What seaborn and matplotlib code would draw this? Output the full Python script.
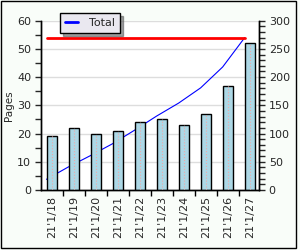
import numpy as np
import pandas as pd
import matplotlib
matplotlib.use("Agg")
import matplotlib.pyplot as plt
from matplotlib.ticker import MultipleLocator
from matplotlib.patches import Rectangle
import seaborn as sns

dates = ["21'1/18", "21'1/19", "21'1/20", "21'1/21", "21'1/22",
         "21'1/23", "21'1/24", "21'1/25", "21'1/26", "21'1/27"]
pages = [19, 22, 20, 21, 24, 25, 23, 27, 37, 52]

df = pd.DataFrame({"date": dates, "pages": pages})
df["total"] = np.cumsum(df["pages"])
pos = np.arange(len(df))
line_x = pos - 0.25

sns.set_style("ticks")
plt.rcParams["font.family"] = ["DejaVu Sans"]

fig = plt.figure(figsize=(3, 2.5), dpi=100, facecolor="#F9FDF9")
ax = fig.add_axes([41/300, 1-190/250, 218/300, (190-20.7)/250])
ax2 = ax.twinx()

# cumulative line + total line on right axis, drawn behind the bars
ax2.set_zorder(ax.get_zorder())
ax.set_zorder(ax2.get_zorder() + 1)
ax.patch.set_visible(False)
ax2.patch.set_visible(True)
ax2.patch.set_facecolor("white")

sns.lineplot(x=line_x, y=df["total"].values, ax=ax2, color="blue", lw=0.8, label="Total", legend=False)
ax2.plot([line_x[0], line_x[-1]], [df["total"].iloc[-1]] * 2, color="red", lw=2)

sns.barplot(data=df, x="date", y="pages", ax=ax, color="#ADD8E6",
            edgecolor="black", linewidth=1, width=0.43, saturation=1)
ax.vlines(pos, 0, df["pages"], colors="#F0A8A8", linestyles=":", lw=0.8, zorder=5)

ax.set_xlim(-0.5, 9.4)
ax2.set_xlim(-0.5, 9.4)
ax.set_ylim(0, 60)
ax2.set_ylim(0, 300)
ax.yaxis.set_major_locator(MultipleLocator(10))
ax.yaxis.set_minor_locator(MultipleLocator(5))
ax2.yaxis.set_major_locator(MultipleLocator(50))
ax2.yaxis.set_minor_locator(MultipleLocator(10))
for y in range(10, 61, 10):
    ax2.axhline(y * 5, color="#DDDDDD", lw=1, zorder=0)

ax.set_xticks(pos)
ax.set_xticklabels(dates, rotation=90, fontsize=8)
ax.set_xticks(pos[:-1] + 0.5, minor=True)
ax.tick_params(axis="x", which="major", length=0, pad=4)
ax.tick_params(axis="x", which="minor", length=4, width=1, color="black")
ax.tick_params(axis="y", which="both", length=4, width=1, labelsize=8, pad=3)
ax2.tick_params(axis="y", which="both", length=4, width=1, labelsize=8, pad=3)
ax.set_xlabel("")
ax.set_ylabel("Pages", fontsize=7.5, labelpad=2)
ax2.set_ylabel("")

for a in (ax, ax2):
    a.spines["top"].set_visible(False)
    for s in ("left", "right", "bottom"):
        a.spines[s].set_linewidth(1)
        a.spines[s].set_color("black")

h, l = ax2.get_legend_handles_labels()
leg = fig.legend(h[:1], l[:1], loc="upper left", bbox_to_anchor=(60/300, 1-13/250),
                 bbox_transform=fig.transFigure, fontsize=8, frameon=True, fancybox=False,
                 shadow=True, borderaxespad=0, handlelength=1.2, borderpad=0.45,
                 handletextpad=1.0)
leg.get_frame().set_facecolor("#EAE8F0")
leg.get_frame().set_edgecolor("black")
leg.get_frame().set_alpha(1)
leg.get_frame().set_linewidth(1)
for line in leg.get_lines():
    line.set_linewidth(2)

fig.patches.append(Rectangle((0.002, 0.008), 0.985, 0.99, transform=fig.transFigure,
                             fill=False, edgecolor="black", lw=1))

fig.savefig("out.png", dpi=100, facecolor=fig.get_facecolor())
